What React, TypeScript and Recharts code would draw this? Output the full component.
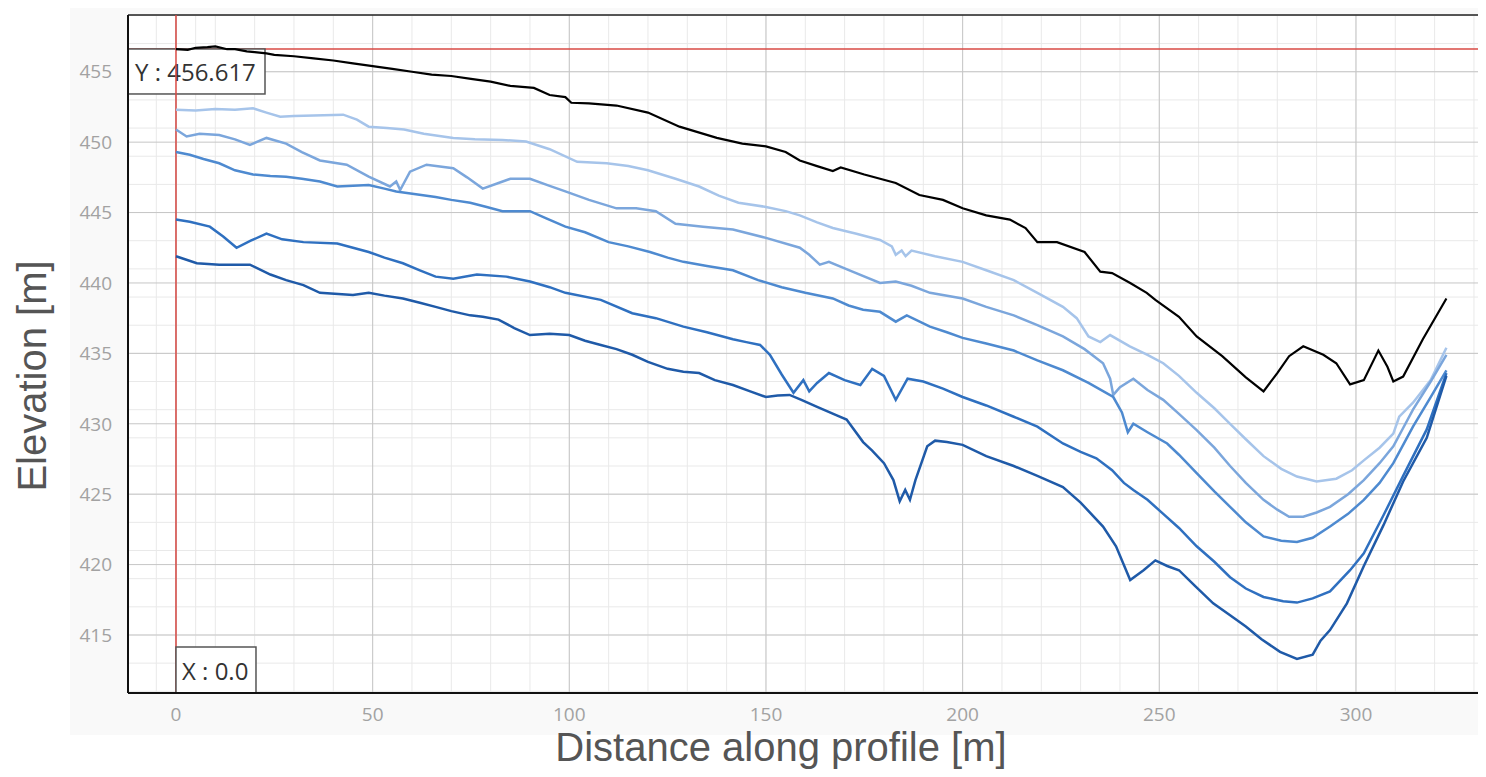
import React from 'react';
import { LineChart, Line, XAxis, YAxis, CartesianGrid, ReferenceLine } from 'recharts';

type Pt = [number, number];

// profile readings: [distance m, elevation m]
const surface: Pt[] = [
  [0, 456.6], [3, 456.55], [5, 456.7], [8, 456.75], [10, 456.8], [13, 456.6], [15, 456.6], [18, 456.45],
  [20, 456.4], [23, 456.3], [25, 456.2], [30, 456.1], [35, 455.95], [40, 455.8], [45, 455.6], [50, 455.4],
  [55, 455.2], [60, 455.0], [65, 454.8], [70, 454.7], [75, 454.5], [80, 454.3], [85, 454.0], [91, 453.85],
  [95, 453.35], [99, 453.2], [100.5, 452.8], [105, 452.75], [112, 452.6], [120, 452.1], [128, 451.1],
  [137.5, 450.3], [144, 449.9], [150, 449.7], [155, 449.3], [158.6, 448.7], [163, 448.3], [167, 447.95],
  [169, 448.2], [175, 447.7], [183, 447.1], [189, 446.25], [195, 445.9], [200, 445.3], [206, 444.8],
  [212, 444.5], [216, 443.9], [219, 442.9], [224, 442.9], [231, 442.2], [235, 440.8], [238, 440.7],
  [242.6, 440.0], [246.8, 439.3], [249, 438.8], [255, 437.6], [259.5, 436.2], [266, 434.8], [272, 433.3],
  [276.5, 432.3], [280, 433.6], [283, 434.8], [286.6, 435.5], [291.7, 434.9], [295, 434.3], [298.5, 432.8],
  [302, 433.1], [305.7, 435.2], [308, 434.05], [309.5, 433.0], [312, 433.35], [317, 436.0], [323, 438.9],
];

const layer1: Pt[] = [
  [0, 452.3], [5, 452.25], [10, 452.35], [15, 452.3], [19.6, 452.4], [23, 452.1], [26.5, 451.8], [30, 451.85],
  [35, 451.9], [42.5, 451.95], [46, 451.6], [49, 451.1], [53.6, 451.0], [58, 450.9], [63, 450.6], [70.5, 450.3],
  [76, 450.2], [83, 450.15], [89, 450.05], [95, 449.5], [102, 448.6], [109.5, 448.5], [115, 448.3], [120, 448.0],
  [127, 447.4], [133, 446.85], [138, 446.2], [143, 445.7], [150, 445.4], [155, 445.1], [158.6, 444.8],
  [163, 444.3], [167, 443.9], [173, 443.5], [179, 443.05], [182, 442.6], [183, 442.0], [184.5, 442.3],
  [185.5, 441.9], [187, 442.3], [193, 441.9], [200, 441.5], [206, 440.9], [213, 440.2], [219, 439.3],
  [225.5, 438.3], [229, 437.5], [232, 436.2], [235, 435.8], [237.5, 436.3], [242.5, 435.5], [247, 434.9],
  [251, 434.3], [255, 433.4], [259.5, 432.2], [264, 431.1], [268, 430.0], [272, 428.9], [276.5, 427.7],
  [281, 426.8], [285, 426.25], [290, 425.9], [295, 426.1], [299, 426.7], [302, 427.4], [306, 428.3],
  [309.5, 429.3], [311, 430.5], [314.5, 431.5], [319, 433.1], [323, 435.4],
];

const layer2: Pt[] = [
  [0, 450.9], [2.7, 450.4], [6, 450.6], [11, 450.5], [15, 450.2], [18.8, 449.8], [23, 450.3], [28, 449.9],
  [32, 449.3], [36.6, 448.7], [43.4, 448.4], [49, 447.55], [54.4, 446.85], [56, 447.2], [57, 446.6],
  [59.5, 447.9], [63.7, 448.4], [70.5, 448.15], [74, 447.5], [78, 446.7], [82, 447.1], [85, 447.4], [90, 447.4],
  [95, 446.9], [99, 446.5], [105, 445.9], [112, 445.3], [117, 445.3], [122, 445.1], [127, 444.2], [134, 444.0],
  [141.6, 443.8], [150, 443.2], [158.6, 442.5], [161, 442.0], [163.7, 441.3], [166, 441.5], [172, 440.8],
  [179, 440.0], [183, 440.1], [187, 439.8], [191.7, 439.3], [200, 438.9], [206, 438.3], [213, 437.7],
  [219, 437.0], [225.5, 436.2], [231, 435.3], [235.7, 434.3], [237.5, 433.2], [238.3, 432.05], [240, 432.6],
  [243.4, 433.2], [247, 432.4], [251, 431.7], [255, 430.7], [259.5, 429.55], [264, 428.3], [268, 427.0],
  [272, 425.8], [276.5, 424.6], [280, 423.9], [283, 423.4], [286.6, 423.4], [290, 423.7], [293.4, 424.1],
  [298, 425.0], [302, 426.0], [306, 427.2], [309.5, 428.4], [312, 429.7], [314.5, 431.0], [319, 433.0],
  [323, 434.9],
];

const layer3: Pt[] = [
  [0, 449.3], [3.5, 449.1], [7, 448.8], [11, 448.5], [15, 448.0], [19.6, 447.7], [24, 447.6], [28, 447.55],
  [32, 447.4], [36.6, 447.2], [41, 446.85], [45, 446.9], [49, 446.95], [53, 446.7], [56, 446.5], [61, 446.3],
  [66, 446.1], [70, 445.9], [74.8, 445.7], [79, 445.4], [83, 445.1], [90, 445.1], [94, 444.6], [99, 444.0],
  [104, 443.6], [110, 442.9], [115, 442.6], [120.5, 442.2], [125, 441.8], [129, 441.5], [135, 441.2],
  [141.6, 440.9], [148, 440.2], [154, 439.7], [160, 439.3], [167, 438.9], [171, 438.4], [174.7, 438.1],
  [179, 437.95], [183, 437.25], [185.8, 437.7], [191.7, 436.9], [196, 436.5], [200, 436.1], [206, 435.7],
  [213, 435.2], [219, 434.5], [225.5, 433.8], [232, 432.9], [238.3, 431.9], [240.5, 430.8], [242, 429.4],
  [243.4, 430.0], [247, 429.4], [252, 428.6], [255, 427.8], [259.5, 426.5], [264, 425.2], [268, 424.1],
  [272, 423.0], [276.5, 422.0], [281, 421.7], [285, 421.6], [289, 421.9], [293.4, 422.7], [298, 423.6],
  [302, 424.6], [306, 425.8], [309.5, 427.2], [314.5, 429.8], [319, 431.9], [323, 433.8],
];

const layer4: Pt[] = [
  [0, 444.5], [3.5, 444.35], [8.6, 444.0], [12, 443.3], [15.4, 442.5], [19, 443.0], [23, 443.5], [27, 443.1],
  [32.4, 442.9], [41, 442.8], [45, 442.5], [49, 442.2], [53, 441.8], [57.7, 441.4], [62, 440.9], [66, 440.45],
  [70.5, 440.3], [76.5, 440.6], [84, 440.45], [90, 440.1], [95, 439.7], [99, 439.3], [108, 438.8],
  [116, 437.85], [122, 437.5], [129, 436.9], [135, 436.5], [141.6, 436.0], [145, 435.8], [148.5, 435.6],
  [151, 434.9], [154, 433.5], [157, 432.2], [159.5, 433.1], [161, 432.3], [163, 432.9], [166, 433.6],
  [170, 433.1], [174, 432.75], [177, 433.9], [180, 433.4], [183, 431.7], [186, 433.2], [190, 433.0],
  [195, 432.5], [200, 431.9], [206, 431.3], [213, 430.5], [219, 429.8], [225.5, 428.6], [230, 428.0],
  [234, 427.55], [238, 426.7], [241, 425.8], [243.4, 425.3], [247, 424.6], [251, 423.6], [255, 422.6],
  [259.5, 421.3], [264, 420.2], [268, 419.1], [272, 418.3], [276.5, 417.7], [281.5, 417.4], [285, 417.3],
  [289, 417.6], [293.4, 418.1], [298.5, 419.6], [302, 420.8], [307, 423.5], [312, 426.3], [318, 429.6],
  [323, 433.6],
];

const layer5: Pt[] = [
  [0, 441.9], [5.3, 441.4], [11, 441.3], [18.8, 441.3], [24, 440.6], [28, 440.2], [32.4, 439.85], [36.6, 439.3],
  [45, 439.15], [49, 439.3], [53, 439.1], [57.7, 438.9], [62, 438.6], [66, 438.3], [70, 438.0], [74.8, 437.7],
  [78, 437.6], [82, 437.4], [86, 436.8], [90, 436.3], [95, 436.4], [100, 436.3], [104, 435.9], [108, 435.6],
  [112, 435.3], [116, 434.9], [120, 434.4], [125, 433.9], [129, 433.7], [133, 433.6], [137, 433.1],
  [141.6, 432.75], [146, 432.3], [150, 431.9], [153, 432.0], [156, 432.05], [159, 431.7], [163, 431.2],
  [168, 430.6], [170.5, 430.3], [174.7, 428.7], [177, 428.1], [180, 427.2], [182.4, 426.0], [184, 424.5],
  [185.4, 425.3], [186.6, 424.6], [188, 426.0], [191, 428.4], [193, 428.8], [196, 428.7], [200, 428.5],
  [206, 427.7], [213, 427.0], [219, 426.3], [225.5, 425.5], [230, 424.4], [235.7, 422.7], [239, 421.3],
  [242.6, 418.9], [246, 419.6], [249, 420.3], [252, 419.9], [255, 419.6], [259, 418.5], [263.7, 417.25],
  [268, 416.4], [272, 415.6], [276, 414.7], [280.7, 413.8], [285, 413.3], [289, 413.6], [291, 414.6],
  [293.4, 415.35], [297.7, 417.25], [302, 419.9], [307, 422.8], [312, 425.9], [318, 429.0], [323, 433.4],
];

const xTicks = [0, 50, 100, 150, 200, 250, 300];
const yTicks = [415, 420, 425, 430, 435, 440, 445, 450, 455];
const cursorX = 0;
const cursorY = 456.617;

const X_DOMAIN: [number, number] = [-12.2, 332.3];
const Y_DOMAIN: [number, number] = [410.88, 459.03];

const minorX: number[] = [];
for (let v = -10; v <= 330; v += 5) minorX.push(v);
const minorY: number[] = [];
for (let v = 411; v <= 459; v += 1) minorY.push(v);

const toRows = (pts: Pt[]) => pts.map(([x, y]) => ({ x, y }));

const series = [
  { name: 'layer1', pts: layer1, color: '#a6c4ea' },
  { name: 'layer2', pts: layer2, color: '#7ba6dc' },
  { name: 'layer3', pts: layer3, color: '#4e8ad0' },
  { name: 'layer4', pts: layer4, color: '#2f70c0' },
  { name: 'layer5', pts: layer5, color: '#1f5aa8' },
  { name: 'surface', pts: surface, color: '#000000' },
];

const tickStyle = { fill: '#a2a2a2', fontSize: 19, fontFamily: 'Open Sans, sans-serif' };
const boxFont = 'Open Sans, sans-serif';
const titleFont = 'Liberation Sans, Arial, sans-serif';

const YBox = (props: any) => {
  const { x, y } = props.viewBox;
  return (
    <g>
      <rect x={x} y={y} width={137} height={45} fill="#ffffff" stroke="#555" strokeWidth={1.5} />
      <text x={x + 7} y={y + 32} fontSize={24} fill="#333" fontFamily={boxFont}>
        Y : {cursorY.toFixed(3)}
      </text>
    </g>
  );
};

const XBox = (props: any) => {
  const { x, y, height } = props.viewBox;
  const top = y + height - 46;
  return (
    <g>
      <rect x={x} y={top} width={80} height={46} fill="#ffffff" stroke="#555" strokeWidth={1.5} />
      <text x={x + 6} y={top + 33} fontSize={24} fill="#333" fontFamily={boxFont}>
        X : {cursorX.toFixed(1)}
      </text>
    </g>
  );
};

export default function App() {
  return (
    <div style={{ position: 'relative', width: 1478, height: 768 }}>
      <div style={{ position: 'absolute', left: 62, top: 0, width: 1416, height: 727, background: '#f9f9f9' }} />
      <div style={{ position: 'absolute', left: 0, top: 0 }}>
        <LineChart width={1478} height={768} margin={{ top: 7, right: 3, left: 0, bottom: 0 }}>
          <CartesianGrid
            fill="#ffffff"
            stroke="#e9e9e9"
            strokeWidth={1}
            verticalValues={minorX}
            horizontalValues={minorY}
          />
          <CartesianGrid
            stroke="#c6c6c6"
            strokeWidth={1}
            verticalValues={xTicks}
            horizontalValues={yTicks}
          />
          <XAxis
            type="number"
            dataKey="x"
            domain={X_DOMAIN}
            allowDataOverflow
            ticks={xTicks}
            height={83}
            tickLine={false}
            tickMargin={9}
            axisLine={{ stroke: '#111', strokeWidth: 2 }}
            tick={tickStyle}
            label={() => (
              <text x={773} y={753} textAnchor="middle" fontSize={40} fill="#555" fontFamily={titleFont}>
                Distance along profile [m]
              </text>
            )}
          />
          <YAxis
            type="number"
            domain={Y_DOMAIN}
            allowDataOverflow
            ticks={yTicks}
            width={120}
            tickLine={false}
            tickMargin={10}
            axisLine={{ stroke: '#111', strokeWidth: 2 }}
            tick={tickStyle}
            label={() => (
              <text x={38} y={368} transform="rotate(-90, 38, 368)" textAnchor="middle" fontSize={40}
                fill="#555" fontFamily={titleFont}>
                Elevation [m]
              </text>
            )}
          />
          <ReferenceLine y={Y_DOMAIN[1]} stroke="#222" strokeWidth={1.5} ifOverflow="visible" />
          <ReferenceLine y={cursorY} stroke="#d94a45" strokeWidth={1.5} label={YBox} />
          <ReferenceLine x={cursorX} stroke="#d94a45" strokeWidth={1.5} label={XBox} />
          {series.map((s) => (
            <Line
              key={s.name}
              data={toRows(s.pts)}
              dataKey="y"
              type="linear"
              stroke={s.color}
              strokeWidth={s.name === 'surface' ? 2.2 : 2.5}
              dot={false}
              activeDot={false}
              isAnimationActive={false}
            />
          ))}
        </LineChart>
      </div>
    </div>
  );
}
